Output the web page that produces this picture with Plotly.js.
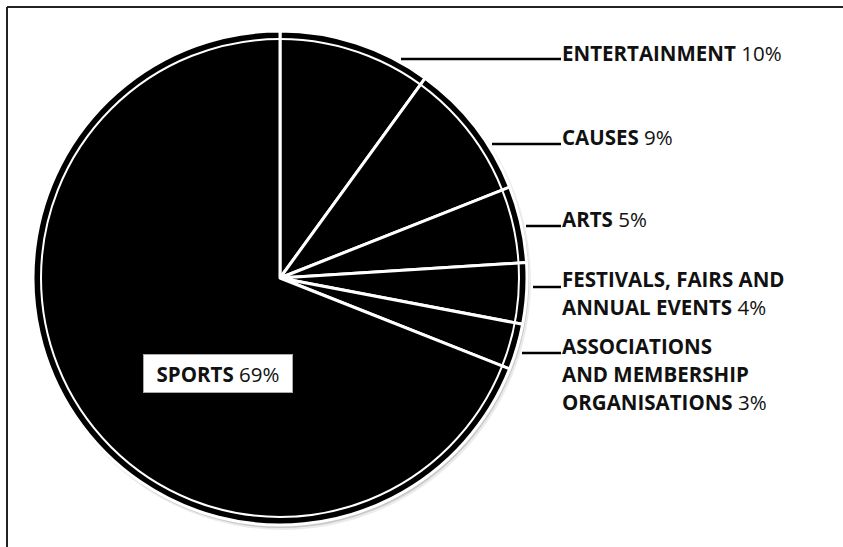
<!DOCTYPE html>
<html>
<head>
<meta charset="utf-8">
<script src="https://cdn.plot.ly/plotly-3.0.1.min.js"></script>
<style>html,body{margin:0;padding:0;background:#fff;overflow:hidden;}#chart{width:843px;height:547px;}</style>
</head>
<body>
<div id="chart"></div>
<script>
// ---- data ----
var categories = ['ENTERTAINMENT', 'CAUSES', 'ARTS', 'FESTIVALS, FAIRS AND<br>ANNUAL EVENTS', 'ASSOCIATIONS<br>AND MEMBERSHIP<br>ORGANISATIONS', 'SPORTS'];
var shares = [10, 9, 5, 4, 3, 69];

// ---- layout helpers (pixel positions) ----
var W = 843, H = 547;
function px(x) { return x / W; }
function py(y) { return 1 - y / H; }
var cx = 280, cy = 278, R = 247;
var labelX = 562;
var labelFirstY = [52.5, 137, 219, 279, 346];
var leaderY = [59, 144, 226, 287, 353];
var leaderX0 = [401, 492, 526, 533, 522];
var lineGap = 28;
var FONT = 'Open Sans';
var FS = 20.5;

var shapes = [];
var annotations = [];

// frame (only top & left visible)
shapes.push({type: 'line', xref: 'paper', yref: 'paper', x0: px(7), x1: px(W), y0: py(7), y1: py(7),
  line: {color: '#222', width: 2}, layer: 'below'});
shapes.push({type: 'line', xref: 'paper', yref: 'paper', x0: px(7), x1: px(7), y0: py(7), y1: py(H),
  line: {color: '#222', width: 2}, layer: 'below'});
// soft shadow
shapes.push({type: 'circle', xref: 'paper', yref: 'paper', x0: px(cx - R + 1), x1: px(cx + R + 4), y0: py(cy + R + 5), y1: py(cy - R + 1),
  line: {width: 0}, fillcolor: 'rgba(0,0,0,0.08)', layer: 'below'});
shapes.push({type: 'circle', xref: 'paper', yref: 'paper', x0: px(cx - R + 1), x1: px(cx + R + 2), y0: py(cy + R + 3), y1: py(cy - R + 1),
  line: {width: 0}, fillcolor: 'rgba(0,0,0,0.15)', layer: 'below'});
// inner white ring
var r2 = 239;
shapes.push({type: 'circle', xref: 'paper', yref: 'paper', x0: px(cx - r2), x1: px(cx + r2), y0: py(cy + r2), y1: py(cy - r2),
  line: {color: '#fff', width: 2}, fillcolor: 'rgba(0,0,0,0)', layer: 'above'});

for (var i = 0; i < 5; i++) {
  shapes.push({type: 'line', xref: 'paper', yref: 'paper', x0: px(leaderX0[i]), x1: px(labelX - 1), y0: py(leaderY[i]), y1: py(leaderY[i]),
    line: {color: '#000', width: 2.5}, layer: 'above'});
  var lines = categories[i].split('<br>');
  for (var j = 0; j < lines.length; j++) {
    var t = '<b>' + lines[j] + '</b>' + (j === lines.length - 1 ? ' ' + shares[i] + '%' : '');
    annotations.push({xref: 'paper', yref: 'paper', x: px(labelX - 2), y: py(labelFirstY[i] + j * lineGap),
      xanchor: 'left', yanchor: 'middle', showarrow: false, text: t,
      font: {family: FONT, size: FS, color: '#111'}});
  }
}
// sports label in box
annotations.push({xref: 'paper', yref: 'paper', x: px(217.5), y: py(373), xanchor: 'center', yanchor: 'middle',
  showarrow: false, text: '<b>' + categories[5] + '</b> ' + shares[5] + '%',
  font: {family: FONT, size: FS, color: '#111'}, bgcolor: '#fff', bordercolor: '#aaa', borderwidth: 1,
  width: 146, height: 35});

var trace = {
  type: 'pie',
  values: shares,
  labels: categories,
  sort: false,
  direction: 'clockwise',
  rotation: 0,
  textinfo: 'none',
  hoverinfo: 'label+percent',
  marker: {colors: shares.map(function () { return '#000'; }), line: {color: '#fff', width: 3}},
  domain: {x: [px(cx - R), px(cx + R)], y: [py(cy + R), py(cy - R)]},
  showlegend: false
};

var layout = {
  width: W, height: H,
  margin: {l: 0, r: 0, t: 0, b: 0},
  paper_bgcolor: '#fff',
  plot_bgcolor: '#fff',
  shapes: shapes,
  annotations: annotations,
  showlegend: false
};

Plotly.newPlot('chart', [trace], layout, {displayModeBar: false, staticPlot: true});
</script>
</body>
</html>
